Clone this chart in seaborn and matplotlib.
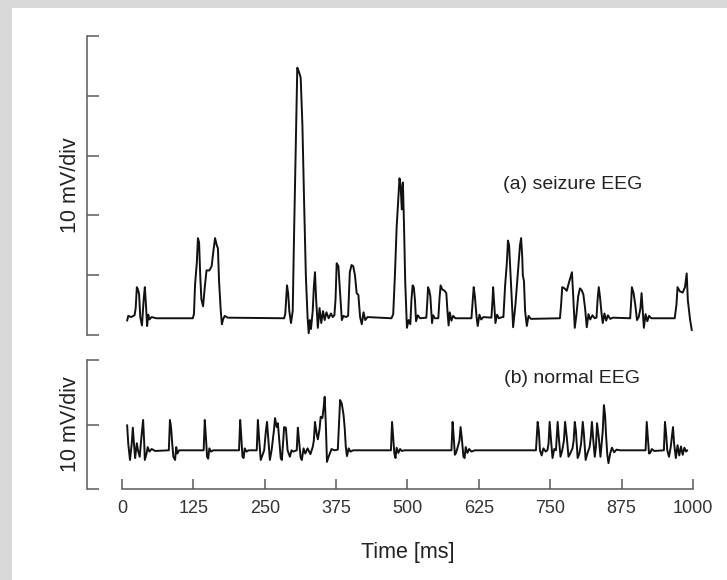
import pandas as pd
import matplotlib
matplotlib.use('Agg')
import matplotlib.pyplot as plt
import seaborn as sns
from matplotlib.patches import Rectangle

# vertices: time [ms] and amplitude [mV], (a) seizure EEG
seizure_ms = [9, 11, 16, 22, 24, 26, 28, 30, 32, 35, 38, 40, 42, 44, 46, 48, 52, 60,
              124, 126, 128, 131, 133, 135, 137, 139, 142, 145, 148, 153, 157, 160, 163, 166, 168, 170,
              173, 175, 177, 180, 185,
              284, 286, 289, 291, 293, 296, 299, 301, 304, 307, 310, 313, 316, 319, 322, 325, 327, 329,
              331, 334, 336, 338, 340, 343, 346, 349, 352, 355, 358, 362, 366, 369, 372, 374, 376, 379,
              382, 385, 388, 392, 396, 399, 402, 405, 408, 411, 414, 417, 420, 423, 426, 430,
              472, 475, 478, 481, 484, 486, 488, 490, 492, 494, 496, 499, 502, 505, 507, 509, 511, 513,
              515, 518, 522,
              533, 535, 536, 538, 540, 543, 545, 548,
              554, 556, 558, 561, 565, 568, 570, 572, 574, 577, 580, 584,
              612, 614, 616, 618, 621, 623, 626, 629, 633,
              647, 649, 650, 652, 654, 657, 660, 666,
              668, 671, 674, 676, 678, 681, 685, 689, 693, 697, 699, 701, 702, 704, 706, 709, 712, 716,
              767, 769, 771, 775, 779, 782, 785, 788, 790, 793, 796, 799, 802, 805, 808, 811, 814, 817,
              820, 824, 828,
              831, 833, 835, 837, 840, 842, 845, 848, 851, 855, 860,
              890, 892, 893, 896, 899, 902, 905, 908, 910, 912, 914, 917, 920, 923, 927,
              968, 971, 973, 977, 982, 986, 989, 991, 995, 998]
seizure_mv = [2.4, 3.2, 3.0, 3.3, 4.5, 8.0, 7.6, 6.8, 3.0, 1.6, 6.0, 8.0, 5.0, 1.5, 3.4, 2.6, 3.0, 2.8,
              2.8, 3.5, 8.5, 12.0, 16.2, 15.5, 10.0, 6.0, 4.8, 8.0, 10.8, 10.8, 11.5, 14.0, 16.2, 15.0, 14.5, 9.0,
              4.0, 1.8, 2.6, 3.2, 2.9,
              2.8, 3.6, 8.3, 7.0, 4.0, 2.0, 4.0, 15.0, 30.0, 44.7, 44.0, 43.0, 35.0, 22.0, 10.0, 3.0, 0.3, 2.5,
              1.0, 4.0, 8.0, 10.5, 6.0, 1.2, 4.5, 2.0, 4.0, 2.5, 3.8, 2.8, 3.6, 3.0, 3.3, 6.0, 12.0, 11.5,
              7.0, 2.5, 3.2, 3.0, 3.2, 10.5, 11.7, 11.5, 10.0, 7.0, 6.7, 3.0, 1.8, 3.8, 2.5, 3.0,
              2.8, 3.5, 10.0, 18.0, 23.0, 26.2, 25.0, 21.0, 25.5, 18.0, 9.0, 1.2, 2.5, 1.8, 6.0, 8.3, 8.0, 6.0,
              2.3, 3.3, 2.8,
              2.9, 6.0, 8.0, 7.5, 6.5, 2.0, 3.3, 2.8,
              2.8, 6.0, 8.3, 7.6, 7.4, 7.0, 4.0, 1.6, 3.8, 2.4, 3.2, 2.8,
              2.8, 5.5, 8.0, 6.5, 3.0, 1.5, 3.4, 2.6, 3.0,
              2.9, 6.0, 8.0, 5.0, 2.0, 3.4, 2.8, 3.0,
              3.0, 8.3, 12.0, 15.8, 15.0, 9.0, 1.3, 5.0, 10.0, 15.0, 16.2, 13.0, 10.0, 9.0, 4.0, 1.5, 3.2, 2.7,
              2.8, 5.0, 8.0, 7.8, 7.4, 8.5, 9.5, 10.5, 7.0, 1.2, 3.5, 6.5, 7.8, 7.5, 6.8, 4.5, 1.3, 3.5,
              2.6, 3.3, 2.8,
              2.9, 6.0, 8.0, 6.5, 3.5, 2.0, 3.6, 2.4, 3.3, 2.7, 2.9,
              2.8, 6.0, 8.0, 7.0, 5.0, 2.5, 3.0, 4.5, 7.0, 4.0, 1.2, 3.5, 2.3, 3.2, 2.8,
              2.8, 5.0, 8.0, 7.3, 7.1, 8.0, 10.3, 5.8, 2.5, 0.8]

# (b) normal EEG
normal_ms = [9, 11, 14, 17, 19, 21, 23, 26, 28, 31, 34, 37, 39, 40, 43, 45, 48, 52, 58,
             82, 84, 86, 88, 90, 93, 95, 97, 100,
             143, 145, 147, 149, 151, 153, 156, 160,
             205, 207, 209, 211, 213, 215, 218, 222,
             236, 238, 240, 243, 245, 249, 252, 254, 256, 259, 262, 266, 268, 271, 273, 275, 278, 280,
             282, 284, 287, 290, 294, 297, 300,
             306, 308, 310, 313, 315, 318, 321, 325, 330, 334, 336,
             338, 341, 343, 346, 348, 351, 353, 355, 357, 359, 361, 364, 367, 372, 378, 380, 382, 385,
             388, 390, 392, 394, 397, 400, 405,
             471, 473, 475, 477, 479, 481, 484, 487, 490, 495,
             577, 579, 581, 583, 585, 588, 591, 593, 595, 598, 600, 602, 605, 608, 612, 618,
             725, 728, 730, 732, 735, 738, 742, 745, 747, 749, 751, 754, 757, 760, 763, 765, 768, 771,
             774, 776, 779, 782, 785, 789, 791, 793, 795, 798, 801, 804, 807, 809, 812, 815, 819, 821,
             823, 825, 828, 830, 832, 835, 838, 840, 842, 844, 846, 848, 850, 852, 855, 858, 862, 866, 872,
             917, 919, 921, 923, 925, 928, 932,
             949, 951, 953, 955, 958, 961, 965, 967, 970, 973, 976, 979, 982, 985, 988, 990]
normal_mv = [9.9, 7.0, 4.5, 7.0, 9.5, 7.0, 4.8, 7.1, 6.0, 5.0, 8.0, 10.7, 7.0, 4.5, 5.5, 6.5, 5.8, 6.2, 5.9,
             6.0, 10.7, 9.5, 7.0, 5.0, 4.5, 6.5, 5.5, 6.0,
             6.0, 10.7, 8.0, 5.0, 4.7, 6.3, 5.8, 6.0,
             6.0, 10.7, 8.0, 5.0, 4.8, 6.3, 5.8, 6.0,
             6.0, 10.7, 8.0, 4.5, 5.0, 6.0, 9.0, 10.4, 8.0, 4.5, 6.0, 9.0, 11.0, 9.6, 10.2, 8.0, 4.8, 4.5,
             7.0, 9.6, 9.5, 6.0, 5.0, 6.0, 5.8,
             6.0, 9.5, 7.5, 4.8, 4.5, 6.3, 5.5, 6.3, 5.4, 6.5, 7.5,
             10.4, 8.5, 7.7, 9.3, 11.2, 11.0, 12.5, 14.3, 10.0, 4.2, 4.8, 5.5, 6.2, 6.0, 6.1, 10.0, 13.8, 13.2,
             11.5, 9.5, 6.5, 5.1, 6.3, 5.8, 6.0,
             6.0, 10.4, 8.0, 5.5, 4.8, 6.4, 5.6, 6.2, 5.9, 6.0,
             6.0, 10.4, 8.0, 5.3, 5.6, 6.5, 7.5, 9.6, 8.0, 5.0, 4.8, 6.5, 5.6, 6.2, 5.8, 6.0,
             6.0, 10.4, 9.0, 6.0, 5.2, 6.3, 5.8, 6.0, 7.0, 10.4, 8.0, 4.8, 6.2, 6.0, 10.4, 8.0, 5.0, 6.0,
             7.5, 10.4, 8.0, 5.0, 5.5, 6.3, 7.5, 10.4, 9.0, 4.8, 5.5, 7.0, 10.4, 8.5, 4.5, 5.5, 6.5, 8.0,
             10.4, 8.0, 5.0, 6.5, 10.2, 8.0, 5.0, 7.0, 9.0, 13.0, 11.5, 8.0, 5.3, 4.0, 5.5, 6.4, 5.7, 6.1, 6.0,
             6.0, 10.4, 8.0, 5.5, 5.6, 6.2, 5.9,
             6.0, 10.4, 8.5, 6.0, 5.0, 6.5, 9.6, 7.0, 4.8, 6.8, 5.2, 6.6, 5.3, 6.4, 5.8, 6.0]

time_ticks = [0, 125, 250, 375, 500, 625, 750, 875, 1000]
seizure_div = [0, 10, 20, 30, 40, 50]
normal_div = [0, 10, 20]

AXIS_GREY = '#5a5a5a'
TEXT = '#222222'


def style_axis(ax, yticks, show_x):
    ax.set_facecolor('none')
    ax.set_xlim(0, 1000)
    ax.set_ylim(yticks[0], yticks[-1])
    ax.set_yticks(yticks)
    ax.spines['top'].set_visible(False)
    ax.spines['right'].set_visible(False)
    ax.spines['left'].set_position(('outward', 25.2))
    ax.spines['left'].set_bounds(yticks[0], yticks[-1])
    for s in ['left', 'bottom']:
        ax.spines[s].set_color(AXIS_GREY)
        ax.spines[s].set_linewidth(1.1)
    ax.tick_params(axis='y', direction='in', length=8.6, width=1.1, color=AXIS_GREY,
                   left=True, labelleft=False)
    if show_x:
        ax.set_xticks(time_ticks)
        ax.spines['bottom'].set_bounds(0, 1000)
        ax.tick_params(axis='x', direction='in', length=7.5, width=1.1, color=AXIS_GREY,
                       bottom=True, labelsize=13, labelcolor='#333333', pad=8)
    else:
        ax.spines['bottom'].set_visible(False)
        ax.set_xticks([])
    ax.set_ylabel('10 mV/div', fontsize=15.5, color=TEXT)
    ax.yaxis.set_label_coords(-0.072, 0.5)


def main():
    sns.set_theme(style='white')
    plt.rcParams['font.family'] = ['Liberation Sans', 'DejaVu Sans']

    fig = plt.figure(figsize=(7.27, 5.8), dpi=100, facecolor='#d9d9d9')
    fig.add_artist(Rectangle((12 / 727, 0), 1, 1 - 8 / 580, transform=fig.transFigure,
                             facecolor='white', edgecolor='none', zorder=-1))

    ax1 = fig.add_axes([0.1678, 0.4224, 0.7854, 0.5155])
    ax2 = fig.add_axes([0.1678, 0.1569, 0.7854, 0.2224])

    seizure = pd.DataFrame({'Time': seizure_ms, 'Amplitude': seizure_mv})
    normal = pd.DataFrame({'Time': normal_ms, 'Amplitude': normal_mv})

    sns.lineplot(data=seizure, x='Time', y='Amplitude', ax=ax1, color='#111111',
                 linewidth=1.4, estimator=None, sort=False)
    sns.lineplot(data=normal, x='Time', y='Amplitude', ax=ax2, color='#111111',
                 linewidth=1.4, estimator=None, sort=False)

    style_axis(ax1, seizure_div, False)
    style_axis(ax2, normal_div, True)
    ax1.set_xlabel('')
    ax2.set_xlabel('Time [ms]', fontsize=15.5, color=TEXT, labelpad=18)

    ax1.text(790, 25.2, '(a) seizure EEG', fontsize=14, color=TEXT, ha='center', va='center')
    ax2.text(788, 17.2, '(b) normal EEG', fontsize=14, color=TEXT, ha='center', va='center')

    fig.savefig('out.png', dpi=100, facecolor=fig.get_facecolor())


if __name__ == '__main__':
    main()
